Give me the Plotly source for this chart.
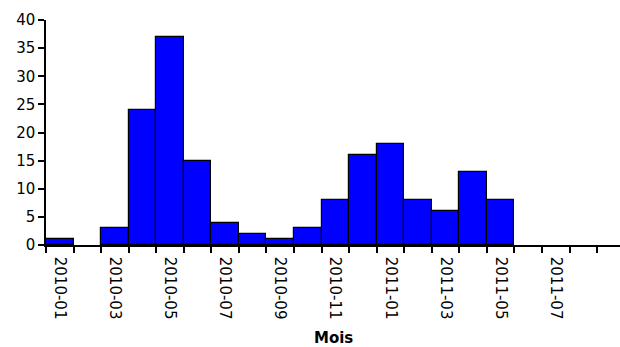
import plotly.graph_objects as go

months = ["2010-01", "2010-02", "2010-03", "2010-04", "2010-05", "2010-06",
          "2010-07", "2010-08", "2010-09", "2010-10", "2010-11", "2010-12",
          "2011-01", "2011-02", "2011-03", "2011-04", "2011-05", "2011-06",
          "2011-07", "2011-08"]
counts = [1, 0, 3, 24, 37, 15, 4, 2, 1, 3, 8, 16, 18, 8, 6, 13, 8, 0, 0, 0]
y_ticks = [0, 5, 10, 15, 20, 25, 30, 35, 40]
x_title = "Mois"

idx = list(range(len(months)))
label_idx = idx[::2]
label_txt = months[::2]
edge_w = [1.2 if c > 0 else 0 for c in counts]

fig = go.Figure(go.Bar(
    x=idx, y=counts, width=1,
    marker=dict(color="#0000FF", line=dict(color="black", width=edge_w)),
))

font = "DejaVu Sans, Arial, sans-serif"
fig.update_layout(
    width=620, height=347,
    margin=dict(l=46, r=0, t=20, b=102, autoexpand=False),
    plot_bgcolor="white", paper_bgcolor="white",
    showlegend=False, bargap=0,
    font=dict(family=font, color="black", size=15),
    annotations=[dict(text="<b>" + x_title + "</b>", xref="paper", yref="paper",
                      x=0.5, y=0, xanchor="center", yanchor="middle",
                      yshift=-93, borderpad=0, showarrow=False,
                      font=dict(size=15))],
)
fig.update_xaxes(
    range=[-0.5, 20.33], automargin=False,
    tickmode="array", tickvals=label_idx, ticktext=label_txt,
    tickangle=90, tickfont=dict(size=15),
    ticks="outside", ticklen=7, tickcolor="rgba(0,0,0,0)",
    showline=True, linecolor="black", linewidth=1.5,
    showgrid=False, zeroline=False,
    minor=dict(tickmode="linear", tick0=-0.5, dtick=1, ticks="outside",
               ticklen=6, tickcolor="black", tickwidth=1.5, showgrid=False),
)
fig.update_yaxes(
    range=[0, 40], tickmode="array", tickvals=y_ticks, automargin=False,
    ticks="outside", ticklen=6, tickwidth=1.5, tickcolor="black",
    tickfont=dict(size=15),
    showline=True, linecolor="black", linewidth=1.5,
    showgrid=False, zeroline=False,
)
fig.write_html("out.html")
